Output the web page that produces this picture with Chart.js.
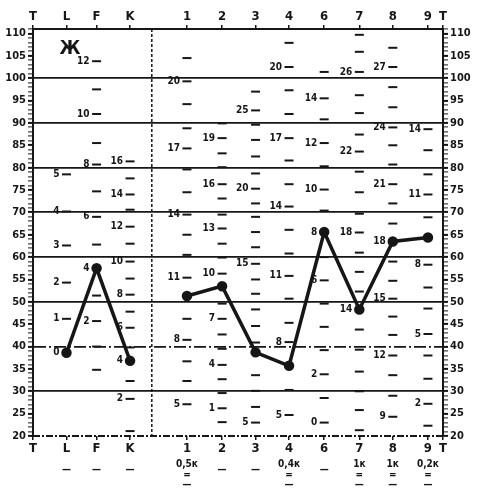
<!DOCTYPE html>
<html>
<head>
<meta charset="utf-8">
<script src="https://cdn.jsdelivr.net/npm/chart.js@4.4.1/dist/chart.umd.min.js"></script>
<style>
  html, body { margin: 0; padding: 0; background: #fff; }
  canvas { display: block; }
</style>
</head>
<body>
<canvas id="profile" width="482" height="498"></canvas>
<script>
'use strict';

// шкалы профиля
const axisLabels = ['T', 'L', 'F', 'K', '1', '2', '3', '4', '6', '7', '8', '9', 'T'];
const validityScales = ['L', 'F', 'K'];
const validityT = [38.6, 57.5, 36.8];
const clinicalScales = ['1', '2', '3', '4', '6', '7', '8', '9'];
const clinicalT = [51.3, 53.5, 38.7, 35.7, 65.6, 48.3, 63.5, 64.4];

// сырые баллы по шкалам: [T, подпись]
const rawL = [[38.6, '0'], [46.2, '1'], [54.3, '2'], [62.6, '3'], [70.2, '4'], [78.5, '5']];
const rawF = [[34.8, ''], [40, ''], [45.7, '2'], [51.4, ''], [57.5, '4'], [62.8, ''], [69, '6'], [74.7, ''],
  [80.7, '8'], [85.5, ''], [92, '10'], [97.5, ''], [103.8, '12']];
const rawK = [[21.1, ''], [28.3, '2'], [32.3, ''], [36.8, '4'], [39.8, ''], [44.2, '6'], [47.8, ''], [51.6, '8'],
  [55.2, ''], [59, '10'], [63, ''], [66.8, '12'], [70.6, ''], [74, '14'], [77.6, ''], [81.4, '16']];
const raw1 = [[27.1, '5'], [32.3, ''], [36.7, ''], [41.5, '8'], [46.2, ''], [51.3, ''], [55.4, '11'], [60.5, ''],
  [65, ''], [69.5, '14'], [74.5, ''], [79.6, ''], [84.3, '17'], [88.8, ''], [94.2, ''], [99.3, '20'], [104.5, '']];
const raw2 = [[23.1, ''], [26.2, '1'], [29.6, ''], [32.7, ''], [35.9, '4'], [39.5, ''], [42.7, ''], [46.2, '7'],
  [49.6, ''], [53.5, ''], [56.3, '10'], [59.9, ''], [63, ''], [66.4, '13'], [69.5, ''], [73.1, ''], [76.3, '16'],
  [80.1, ''], [83.2, ''], [86.6, '19'], [89.9, '']];
const raw3 = [[23, '5'], [26.5, ''], [30.1, ''], [33.6, ''], [38.7, ''], [40.9, ''], [44.6, ''], [48.3, ''],
  [51.8, ''], [55, ''], [58.5, '15'], [62.2, ''], [65.6, ''], [69, ''], [72, ''], [75.3, '20'], [78.7, ''],
  [82.5, ''], [86.2, ''], [89.6, ''], [92.8, '25'], [97, '']];
const raw4 = [[24.7, '5'], [30.3, ''], [35.7, ''], [41, '8'], [45.3, ''], [50.7, ''], [55.8, '11'], [60.8, ''],
  [66.1, ''], [71.3, '14'], [76.3, ''], [81.6, ''], [86.6, '17'], [92, ''], [97.3, ''], [102.5, '20'], [107.9, '']];
const raw6 = [[23, '0'], [28.5, ''], [33.8, '2'], [39.2, ''], [44.4, ''], [49.6, ''], [54.8, '6'], [60, ''],
  [65.6, '8'], [70.4, ''], [75.1, '10'], [80.3, ''], [85.5, '12'], [90.8, ''], [95.5, '14'], [101.4, '']];
const raw7 = [[21.3, ''], [25.8, ''], [30, ''], [34.4, ''], [39.3, ''], [43.8, ''], [48.3, '14'], [52.3, ''],
  [56.7, ''], [61, ''], [65.5, '18'], [69.7, ''], [74.5, ''], [79.1, ''], [83.6, '22'], [87.4, ''], [92.2, ''],
  [96.2, ''], [101.4, '26'], [105.9, ''], [109.7, '']];
const raw8 = [[24.3, '9'], [29, ''], [33.6, ''], [38, '12'], [42.6, ''], [46.7, ''], [50.7, '15'], [54.7, ''],
  [59, ''], [63.5, '18'], [67.5, ''], [72, ''], [76.3, '21'], [80.7, ''], [85, ''], [89, '24'], [93.5, ''],
  [98, ''], [102.5, '27'], [106.8, '']];
const raw9 = [[22.3, ''], [27.2, '2'], [32.8, ''], [38, ''], [42.8, '5'], [48.5, ''], [53.2, ''], [58.3, '8'],
  [64.4, ''], [68.9, ''], [74, '11'], [78.5, ''], [83.9, ''], [88.6, '14']];

// поправки на K под шкалами
const corrections = ['', '—', '—', '—', '0,5к', '—', '—', '0,4к', '—', '1к', '1к', '0,2к', ''];
const corrMarks = ['', '', '', '', '=', '', '', '=', '', '=', '=', '=', ''];

// раскладка по горизонтали (в единицах оси x)
const colPos = [0, 1.0, 1.9, 2.9, 4.6, 5.65, 6.65, 7.65, 8.7, 9.75, 10.75, 11.8, 12.25];
const sepPos = 3.55;

const rawByScale = { L: rawL, F: rawF, K: rawK, '1': raw1, '2': raw2, '3': raw3, '4': raw4,
  '6': raw6, '7': raw7, '8': raw8, '9': raw9 };

function posOf(name) {
    return colPos[axisLabels.indexOf(name)];
}

const rawPoints = [];
Object.keys(rawByScale).forEach(function (name) {
    rawByScale[name].forEach(function (r) {
        rawPoints.push({ x: posOf(name), y: r[0], label: r[1] });
    });
});

const INK = '#161616';
const FONT = "'DejaVu Sans Condensed', 'DejaVu Sans', sans-serif";

const extras = {
    id: 'extras',
    afterDatasetsDraw(chart) {
        const ctx = chart.ctx;
        const area = chart.chartArea;
        const x = chart.scales.x;
        ctx.save();

        // разделитель L-F-K и клинических шкал
        ctx.strokeStyle = INK;
        ctx.lineWidth = 1.5;
        ctx.setLineDash([3, 2]);
        const sx = x.getPixelForValue(sepPos);
        ctx.beginPath();
        ctx.moveTo(sx, area.top);
        ctx.lineTo(sx, area.bottom);
        ctx.stroke();

        // нижняя рамка
        ctx.lineWidth = 2;
        ctx.setLineDash([7, 2, 2, 2]);
        ctx.beginPath();
        ctx.moveTo(area.left, area.bottom);
        ctx.lineTo(area.right, area.bottom);
        ctx.stroke();
        ctx.setLineDash([]);

        // подписи сырых баллов
        const meta = chart.getDatasetMeta(0);
        ctx.fillStyle = INK;
        ctx.font = 'bold 10px ' + FONT;
        ctx.textAlign = 'right';
        ctx.textBaseline = 'middle';
        meta.data.forEach(function (el, i) {
            const lbl = rawPoints[i].label;
            if (lbl) ctx.fillText(lbl, el.x - 7, el.y);
        });

        // Ж
        ctx.font = 'bold 19px ' + FONT;
        ctx.textAlign = 'center';
        ctx.fillText('Ж', area.left + 37, area.top + 20);

        // поправки
        ctx.font = 'bold 10px ' + FONT;
        colPos.forEach(function (p, i) {
            const px = x.getPixelForValue(p);
            const c = corrections[i];
            if (c === '—') {
                ctx.fillText('—', px, area.bottom + 34);
            } else if (c) {
                ctx.fillText(c, px, area.bottom + 28);
            }
            if (corrMarks[i]) {
                ctx.fillText('=', px, area.bottom + 39);
                ctx.fillText('—', px, area.bottom + 49);
            }
        });
        ctx.restore();
    }
};

function yAxis(position, width, onChart) {
    return {
        type: 'linear',
        position: position,
        min: 20,
        max: 111,
        afterFit: function (s) { s.width = width; },
        ticks: {
            stepSize: 1,
            maxTicksLimit: 200,
            autoSkip: false,
            padding: 2,
            color: INK,
            font: { family: FONT, size: 11, weight: 'bold' },
            callback: function (v) { return v % 5 === 0 ? String(v) : ''; }
        },
        grid: {
            drawOnChartArea: onChart,
            tickLength: 5,
            tickColor: INK,
            tickWidth: function (c) { return c.tick && c.tick.value % 5 === 0 ? 2 : 1; },
            lineWidth: 1.8,
            color: function (c) {
                const v = c.tick ? c.tick.value : 0;
                return (v % 10 === 0 && v >= 30 && v <= 100) ? INK : 'rgba(0,0,0,0)';
            }
        },
        border: {
            display: true,
            color: INK,
            width: 2,
            dash: function (c) {
                const v = c.tick ? c.tick.value : 0;
                return v === 40 ? [12, 3, 2, 3] : [];
            }
        }
    };
}

function xAxis(position, height, showBorder) {
    return {
        type: 'linear',
        position: position,
        min: 0,
        max: 12.25,
        afterFit: function (s) { s.height = height; },
        afterBuildTicks: function (s) {
            s.ticks = colPos.map(function (v) { return { value: v }; });
        },
        ticks: {
            autoSkip: false,
            maxRotation: 0,
            padding: 1,
            color: INK,
            font: { family: FONT, size: 13, weight: 'bold' },
            callback: function (v, i) { return axisLabels[i]; }
        },
        grid: { drawOnChartArea: false, tickLength: 4, color: INK, lineWidth: 1.5 },
        border: { display: showBorder, color: INK, width: 2 }
    };
}

new Chart(document.getElementById('profile'), {
    type: 'scatter',
    data: {
        datasets: [
            {
                label: 'raw',
                data: rawPoints,
                pointStyle: 'line',
                radius: 4.5,
                borderWidth: 2,
                borderColor: INK,
                showLine: false
            },
            {
                label: 'validity',
                data: validityScales.map(function (s, i) { return { x: posOf(s), y: validityT[i] }; }),
                showLine: true,
                borderColor: INK,
                backgroundColor: INK,
                borderWidth: 3.5,
                pointRadius: 3.5
            },
            {
                label: 'clinical',
                data: clinicalScales.map(function (s, i) { return { x: posOf(s), y: clinicalT[i] }; }),
                showLine: true,
                borderColor: INK,
                backgroundColor: INK,
                borderWidth: 3.5,
                pointRadius: 3.5
            }
        ]
    },
    options: {
        responsive: false,
        animation: false,
        devicePixelRatio: 1,
        layout: { padding: 0 },
        plugins: { legend: { display: false }, tooltip: { enabled: false } },
        scales: {
            x: xAxis('bottom', 62, false),
            xTop: xAxis('top', 29, true),
            y: yAxis('left', 33, true),
            yR: yAxis('right', 39, false)
        }
    },
    plugins: [extras]
});
</script>
</body>
</html>
